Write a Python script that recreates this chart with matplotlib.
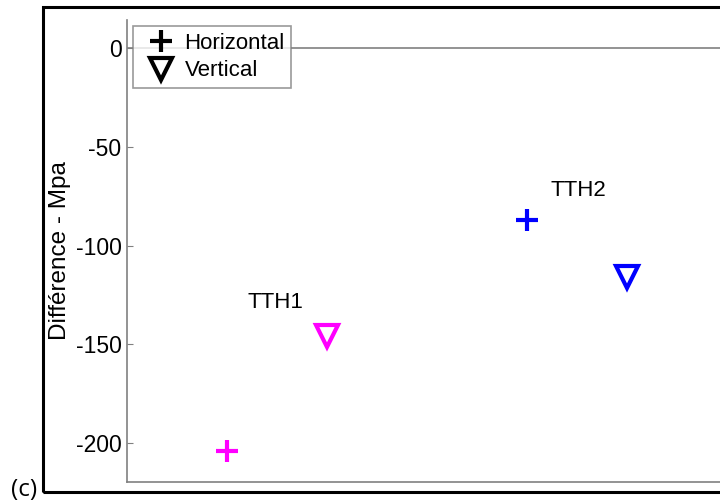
import matplotlib.pyplot as plt
from matplotlib.patches import Rectangle
from matplotlib.lines import Line2D

plt.rcParams['font.family'] = ['Liberation Sans', 'DejaVu Sans']

# data
groups = ['TTH1', 'TTH2']
colors = ['#ff00ff', '#0000ff']
x_horiz = [1, 4]
y_horiz = [-204, -87]
x_vert = [2, 5]
y_vert = [-146, -116]
label_xy = [(1.48, -129), (4.51, -72)]
yticks = [0, -50, -100, -150, -200]

W, H = 720, 504
fig = plt.figure(figsize=(7.2, 5.04), dpi=100)

# outer black frame (continues past the right edge)
fig.patches.append(Rectangle((43 / W, 1 - 492 / H), 1.0, (492 - 7) / H,
                             transform=fig.transFigure, fill=False,
                             edgecolor='black', linewidth=2.2, clip_on=False))

# axes: left 127 px, bottom 482 px, top 20 px, width 650 px (runs off the right)
ax = fig.add_axes([127 / W, 1 - 482 / H, 650 / W, (482 - 20) / H])
ax.set_xlim(0, 6.5)
ax.set_ylim(-219.7, 14.2)

for s in ['top', 'right']:
    ax.spines[s].set_visible(False)
for s in ['left', 'bottom']:
    ax.spines[s].set_color('#808080')
    ax.spines[s].set_linewidth(1.2)
ax.axhline(0, color='#808080', lw=1.2, zorder=1)

ax.set_xticks([])
ax.set_yticks(yticks)
ax.set_yticklabels([str(t) for t in yticks])
ax.tick_params(axis='y', direction='in', length=4, color='#808080',
               labelsize=16.5, pad=4)
ax.set_ylabel('Différence - Mpa', fontsize=17.5, va='center')
ax.yaxis.set_label_coords((60 - 127) / 650, 0.5)

for i, g in enumerate(groups):
    ax.plot(x_horiz[i], y_horiz[i], marker='+', color=colors[i],
            ms=16, mew=3, ls='none')
    ax.plot(x_vert[i], y_vert[i], marker='v', mfc='none', mec=colors[i],
            ms=16, mew=3, ls='none')
    ax.text(label_xy[i][0], label_xy[i][1], g, fontsize=16,
            ha='center', va='center')

handles = [Line2D([], [], marker='+', color='black', ms=16, mew=3, ls='none'),
           Line2D([], [], marker='v', mfc='none', mec='black', ms=16, mew=3, ls='none')]
leg = ax.legend(handles, ['Horizontal', 'Vertical'], loc='upper left',
                bbox_to_anchor=(6 / 650, 1 - 6 / 462), fontsize=16,
                frameon=True, fancybox=False, borderpad=0.3,
                handletextpad=0.12, labelspacing=0.3, handlelength=1.9,
                borderaxespad=0)
leg.get_frame().set_edgecolor('#808080')
leg.get_frame().set_linewidth(1.2)

fig.text(11 / W, 1 - 490 / H, '(c)', fontsize=17.5, ha='left', va='center',
         family=['Open Sans', 'DejaVu Sans'])

fig.savefig('out.png', dpi=100)
